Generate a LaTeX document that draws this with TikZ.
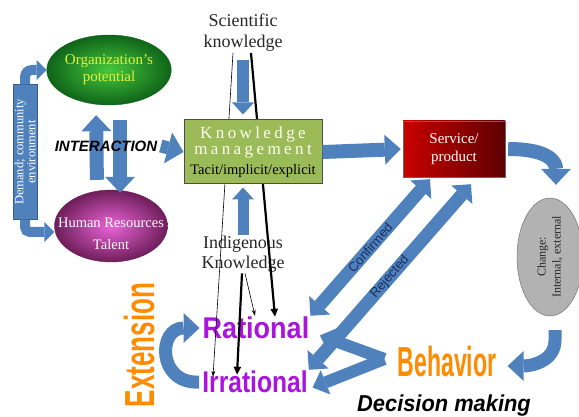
\documentclass[tikz,border=0pt]{standalone}
\usepackage{fontspec}
\usepackage{graphicx}
\setmainfont{Liberation Serif}
\newfontfamily\arialfont{Liberation Sans}
\usetikzlibrary{shapes.geometric,arrows.meta,positioning}

\definecolor{arrowblue}{RGB}{79,129,189}
\definecolor{arrowedge}{RGB}{56,93,138}
\definecolor{kmgreen}{RGB}{155,187,89}
\definecolor{orgin}{RGB}{70,200,60}
\definecolor{orgout}{RGB}{15,100,25}
\definecolor{orgtext}{RGB}{225,240,60}
\definecolor{hrin}{RGB}{235,100,215}
\definecolor{hrout}{RGB}{110,30,90}
\definecolor{svcleft}{RGB}{200,0,0}
\definecolor{svcright}{RGB}{95,0,0}
\definecolor{artpurple}{RGB}{170,20,220}
\definecolor{artorange}{RGB}{255,140,0}
\definecolor{labelnavy}{RGB}{25,45,95}

\newcommand{\kmword}[1]{{\addfontfeatures{LetterSpace=20}\color{white!94!yellow}#1}}

\begin{document}
\begin{tikzpicture}[
    x=1pt, y=-1pt,
    blockarrow/.style={line width=14pt, draw=arrowblue, -{Triangle[width=30pt,length=16pt,line width=0pt]}},
    bendarrow/.style={line width=10pt, draw=arrowblue, rounded corners=7pt, -{Triangle[width=20pt,length=10pt,line width=0pt]}},
    dblarrow/.style={line width=13pt, draw=arrowblue, {Triangle[width=28pt,length=14pt,line width=0pt]}-{Triangle[width=28pt,length=14pt,line width=0pt]}},
    thinline/.style={line width=0.6pt, -{Stealth[length=6pt,width=4pt]}},
    thickline/.style={line width=2.2pt, -{Triangle[length=8pt,width=7pt]}},
    bubble/.style={ellipse, inner sep=0pt, align=center},
    box/.style={rectangle, inner sep=0pt, align=center},
    plain/.style={inner sep=1pt, align=center},
    wordart/.style={inner sep=1pt, font=\arialfont\bfseries\fontsize{#1}{#1}\selectfont},
    lbl/.style={font=\arialfont\fontsize{13}{13}\selectfont, text=labelnavy, sloped, midway}
]
\useasboundingbox (0,0) rectangle (579,417);

% left column
\node[bubble, minimum width=112pt, minimum height=70pt, inner color=orgin, outer color=orgout, draw=orgout,
      text=orgtext, font=\fontsize{15}{17}\selectfont] (org) at (109,70) {Organization's\\potential};
\node[bubble, minimum width=113pt, minimum height=72pt, inner color=hrin, outer color=hrout, draw=hrout] (hr) at (111,226) {};
\node[plain, text=white!92!pink, font=\fontsize{14.5}{22}\selectfont] (hrtext) at (111,234) {Human Resources\\Talent};
\node[box, rotate=90, minimum width=135pt, minimum height=24pt, fill=arrowblue, draw=arrowedge,
      text=white, font=\fontsize{12.5}{12}\selectfont] (demand) at (25,152) {Demand; community\\environment};
\draw[bendarrow] (demand.east) |- (org.west);
\draw[bendarrow, rounded corners=5pt] (demand.west) |- ([yshift=-6pt]hr.west);

% interaction between potential and talent
\draw[blockarrow, shorten <=10pt, shorten >=10pt] ([xshift=-14pt]hr.north) -- ([xshift=-13pt]org.south);
\draw[blockarrow, shorten <=15pt, shorten >=-3pt] ([xshift=11pt]org.south) -- ([xshift=9pt]hr.north);
\node[font=\arialfont\bfseries\itshape\fontsize{15}{15}\selectfont] (inter) at (106,146) {INTERACTION};

% right side
\node[box, minimum width=102pt, minimum height=56pt, left color=svcleft, right color=svcright, draw=black!60,
      text=white, font=\fontsize{15}{18}\selectfont] (svc) at (454,149) {Service/\\product};
\node[bubble, rotate=90, minimum width=118pt, minimum height=66pt, fill=gray!60, draw=black!60,
      text=black!85, font=\fontsize{12}{15}\selectfont] (change) at (550,257) {Change:\\Internal, external};

% knowledge sources and outcomes
\node[plain, text=black!85, font=\fontsize{18}{21}\selectfont] (sci) at (243,33) {Scientific\\knowledge};
\node[plain, text=black!85, font=\fontsize{18}{20}\selectfont] (indig) at (243,254) {Indigenous\\Knowledge};
\node[wordart=30, text=artpurple] (rat) at (256,328) {\scalebox{0.9}[1]{Rational}};
\node[wordart=30, text=artpurple] (irr) at (255,382) {\scalebox{0.82}[1]{Irrational}};
\node[wordart=42, text=artorange] (beh) at (447,361) {\scalebox{0.55}[1]{Behavior}};
\node[wordart=42, text=artorange, rotate=90] (ext) at (139,345) {\scalebox{0.62}[1]{Extension}};
\node[font=\arialfont\bfseries\itshape\fontsize{23}{23}\selectfont] (dec) at (444,406) {\scalebox{0.95}[1]{Decision making}};

% thin and thick links
\draw[thinline] ([xshift=-10pt]sci.south) -- ([xshift=-42pt,yshift=-7pt]irr.north);
\draw[thickline] ([xshift=8pt]sci.south) -- ([xshift=19pt,yshift=-1pt]rat.north);
\draw[thickline] ([xshift=-1pt]indig.south) -- ([xshift=-18pt,yshift=-5pt]irr.north);
\draw[thinline] ([xshift=2pt]indig.south) -- ([xshift=-1pt]rat.north);

% knowledge management box
\node[box, minimum width=138pt, minimum height=64pt, fill=kmgreen, draw=black!70, line width=1pt,
      font=\fontsize{17}{16}\selectfont] (km) at (253,152)
      {\kmword{Knowledge}\\\kmword{management}\\[4pt]{\fontsize{14.5}{16}\selectfont Tacit/implicit/explicit}};

% block arrows
\draw[blockarrow, line width=12pt, -{Triangle[width=22pt,length=12pt,line width=0pt]}, shorten <=7pt, shorten >=5pt] (sci.south) -- (sci.south |- km.north);
\draw[blockarrow, line width=11pt, -{Triangle[width=22pt,length=12pt,line width=0pt]}, shorten >=3pt] (indig.north) -- (indig.north |- km.south);
\draw[blockarrow, line width=13pt, -{Triangle[width=32pt,length=16pt,line width=0pt]}] (inter.east) -- (km.west);
\draw[blockarrow, shorten >=2pt] (km.east) -- (svc.west);
\draw[blockarrow, shorten <=3pt, shorten >=13pt] (svc.east) .. controls +(45,0) and +(0,-35) .. ([xshift=6pt]change.east);
\draw[blockarrow, line width=13pt] ([xshift=5pt,yshift=-14pt]change.west) -- ++(0,10)
    .. controls +(0,22) and +(22,0) .. ([xshift=10pt,yshift=-5pt]beh.east);
\draw[blockarrow, line width=13pt, shorten <=2pt, shorten >=2pt] (irr.west) .. controls +(-44,2) and +(-44,0) .. (rat.west);

% confirmed / rejected
\draw[dblarrow] (rat.north east) -- ([xshift=-24pt,yshift=-2pt]svc.south) node[lbl] {Confirmed};
\draw[dblarrow] (irr.north east) -- ([xshift=17pt,yshift=-7pt]svc.south) node[lbl] {Rejected};

% behavior back to rational / irrational
\coordinate (fork) at ([xshift=-12pt,yshift=2pt]beh.west);
\draw[blockarrow, line width=12pt, -{Triangle[width=26pt,length=14pt,line width=0pt]}, shorten >=10pt] (fork) -- ([yshift=-4pt]rat.east);
\draw[blockarrow, line width=12pt, -{Triangle[width=26pt,length=14pt,line width=0pt]}, shorten >=4pt] (fork) -- ([yshift=-7pt]irr.east);

\end{tikzpicture}
\end{document}
